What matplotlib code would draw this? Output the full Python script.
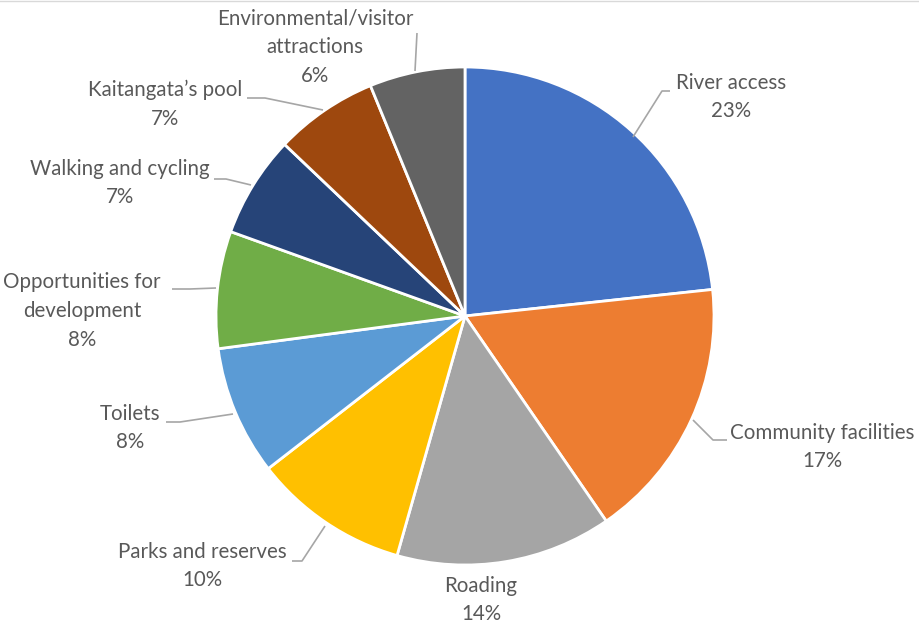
import matplotlib

matplotlib.use("Agg")
import matplotlib.pyplot as plt

categories = [
    "River access",
    "Community facilities",
    "Roading",
    "Parks and reserves",
    "Toilets",
    "Opportunities for\ndevelopment",
    "Walking and cycling",
    "Kaitangata\u2019s pool",
    "Environmental/visitor\nattractions",
]
# shares; labels show them rounded
shares = [23.3, 17.1, 14.0, 10.1, 8.4, 7.6, 6.6, 6.7, 6.2]
colors = [
    "#4472C4", "#ED7D31", "#A5A5A5", "#FFC000", "#5B9BD5",
    "#70AD47", "#264478", "#9E480E", "#636363",
]

W, H = 920, 626
# label text centre (px from top-left) and leader line points
label_layout = [
    ((731, 97), [(670, 91), (662, 91), (633, 137)]),
    ((822, 447), [(727, 440), (713, 440), (693, 420)]),
    ((481, 600), None),
    ((202, 566), [(292, 561), (302, 561), (325, 526)]),
    ((130, 428), [(166, 422), (180, 422), (233, 414)]),
    ((82, 311), [(172, 289), (190, 289), (216, 288)]),
    ((120, 183), [(214, 179), (226, 179), (251, 185)]),
    ((165, 104), [(247, 98), (265, 98), (323, 110)]),
    ((315, 47), [(417, 33), (415, 71)]),
]


def main():
    plt.rcParams["font.family"] = ["Lato", "DejaVu Sans"]
    fig = plt.figure(figsize=(W / 100, H / 100), dpi=100)
    ax = fig.add_axes([0, 0, 1, 1])

    ax.pie(
        shares,
        colors=colors,
        startangle=90,
        counterclock=False,
        center=(465, H - 316),
        radius=249,
        frame=True,
        wedgeprops=dict(edgecolor="white", linewidth=2),
    )
    ax.set_xlim(0, W)
    ax.set_ylim(0, H)
    ax.set_axis_off()

    total = sum(shares)
    for name, share, (text_pos, leader) in zip(categories, shares, label_layout):
        ax.text(
            text_pos[0], H - text_pos[1], f"{name}\n{share / total * 100:.0f}%",
            ha="center", va="center", fontsize=14.8, color="#595959",
            linespacing=1.55,
        )
        if leader:
            ax.plot(
                [p[0] for p in leader], [H - p[1] for p in leader],
                color="#A6A6A6", linewidth=1.2, solid_capstyle="butt",
            )

    ax.plot([0, W], [H - 1, H - 1], color="#D9D9D9", linewidth=1)

    fig.savefig("out.png", dpi=100)
    plt.close(fig)


if __name__ == "__main__":
    main()
